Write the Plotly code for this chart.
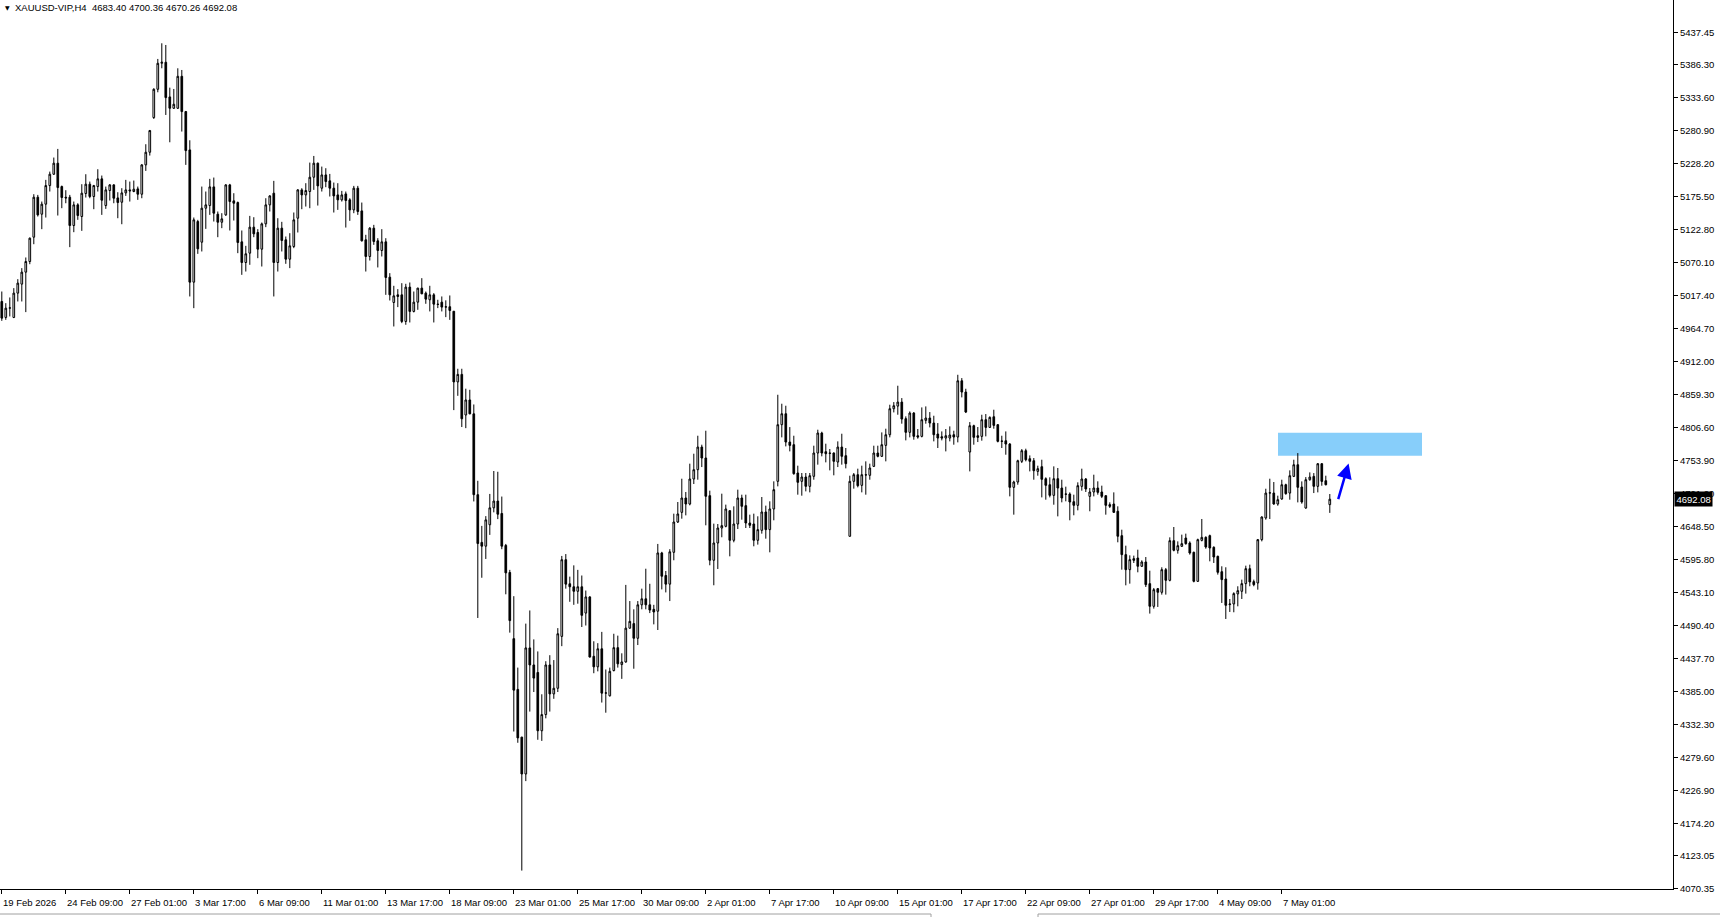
import plotly.graph_objects as go

# ---------------- data ----------------
symbol_title = "XAUUSD-VIP,H4  4683.40 4700.36 4670.26 4692.08"

opens = [
    5007.7, 4982.2, 4997.0, 4982.2, 5021.0, 5035.4, 5054.5, 5071.5, 5110.3, 5174.1,
    5147.0, 5163.0, 5192.7, 5210.8, 5228.4, 5191.1, 5174.1, 5174.1, 5128.9, 5161.9,
    5143.3, 5180.0, 5194.9, 5175.2, 5191.1, 5203.4, 5160.8, 5184.8, 5193.8, 5173.0,
    5166.1, 5181.0, 5185.8, 5183.2, 5187.4, 5178.9, 5225.7, 5245.9, 5301.2, 5346.4,
    5387.9, 5389.5, 5334.2, 5316.1, 5316.1, 5367.1, 5310.8, 5249.6, 5038.5, 5135.3,
    5102.3, 5156.6, 5160.8, 5190.6, 5147.0, 5134.2, 5145.9, 5193.8, 5168.3, 5165.6,
    5102.9, 5069.9, 5084.8, 5126.3, 5117.8, 5091.2, 5131.6, 5161.9, 5180.5, 5069.9,
    5124.7, 5106.1, 5075.2, 5095.4, 5140.6, 5185.8, 5177.8, 5183.2, 5206.0, 5228.4,
    5188.5, 5209.7, 5200.2, 5188.5, 5177.8, 5169.9, 5179.4, 5169.9, 5153.9, 5188.5,
    5152.3, 5106.1, 5079.5, 5124.7, 5104.5, 5089.1, 5102.9, 5046.5, 5006.1, 5018.3,
    5018.3, 4975.8, 5030.6, 4991.8, 5006.6, 5029.0, 5021.0, 5010.4, 5018.3, 5003.4,
    5006.6, 4998.7, 4999.3, 4992.1, 4879.3, 4891.3, 4826.5, 4850.5, 4828.3, 4699.3,
    4623.1, 4617.1, 4651.3, 4678.3, 4689.1, 4669.3, 4618.3, 4575.1, 4469.5, 4388.5,
    4312.3, 4253.5, 4454.7, 4427.5, 4415.5, 4322.5, 4348.3, 4427.5, 4381.3, 4390.3,
    4473.1, 4595.5, 4557.1, 4552.3, 4545.1, 4552.3, 4510.3, 4536.1, 4441.3, 4424.5,
    4453.3, 4382.5, 4378.3, 4418.5, 4455.1, 4428.1, 4432.3, 4486.3, 4493.5, 4470.1,
    4523.5, 4533.1, 4523.5, 4516.3, 4513.3, 4606.3, 4570.3, 4556.5, 4607.3, 4655.7,
    4671.1, 4694.0, 4684.4, 4724.3, 4739.2, 4775.3, 4757.8, 4697.7, 4594.6, 4622.2,
    4646.1, 4648.8, 4673.8, 4626.5, 4652.5, 4694.0, 4681.8, 4654.1, 4652.5, 4626.5,
    4642.4, 4671.7, 4643.5, 4676.5, 4720.6, 4811.0, 4828.5, 4783.3, 4779.1, 4733.9,
    4720.6, 4727.5, 4712.6, 4728.6, 4765.8, 4797.7, 4767.9, 4765.8, 4765.8, 4751.4,
    4775.3, 4761.5, 4632.9, 4720.6, 4731.2, 4714.2, 4730.7, 4730.2, 4744.5, 4765.8,
    4760.5, 4778.0, 4795.0, 4836.5, 4840.7, 4847.1, 4820.6, 4798.8, 4829.6, 4793.4,
    4792.4, 4817.9, 4821.6, 4813.6, 4796.1, 4791.8, 4789.7, 4789.7, 4795.0, 4791.3,
    4881.1, 4863.1, 4767.4, 4809.4, 4793.4, 4792.4, 4819.0, 4806.7, 4823.7, 4811.0,
    4784.9, 4785.4, 4780.1, 4711.0, 4719.5, 4752.5, 4769.5, 4756.7, 4753.5, 4736.5,
    4744.0, 4724.8, 4715.2, 4698.2, 4724.8, 4709.9, 4700.5, 4700.4, 4688.1, 4682.3,
    4712.6, 4724.3, 4696.6, 4703.6, 4709.9, 4703.6, 4697.7, 4683.4, 4684.4, 4672.8,
    4633.9, 4603.6, 4579.6, 4597.2, 4598.2, 4585.0, 4591.9, 4557.3, 4521.1, 4549.3,
    4543.5, 4579.6, 4562.6, 4625.9, 4610.5, 4616.9, 4630.1, 4622.2, 4607.3, 4561.0,
    4626.4, 4631.2, 4633.9, 4615.3, 4600.9, 4576.4, 4564.7, 4523.8, 4524.9, 4540.9,
    4545.1, 4557.3, 4581.2, 4560.5, 4558.4, 4627.5, 4662.1, 4701.9, 4701.9, 4684.4,
    4692.4, 4715.2, 4701.9, 4728.5, 4747.1, 4711.5, 4678.0, 4723.2, 4728.5, 4712.6,
    4748.7, 4721.6, 4683.40,
]
highs = [
    5023.6, 5005.0, 5014.1, 5029.0, 5043.3, 5060.9, 5077.9, 5109.8, 5178.9, 5177.8,
    5167.2, 5201.8, 5215.0, 5237.4, 5251.2, 5192.7, 5185.3, 5177.8, 5167.2, 5164.5,
    5194.9, 5210.8, 5199.1, 5193.8, 5218.8, 5208.7, 5191.1, 5194.9, 5194.9, 5182.1,
    5188.5, 5201.8, 5199.1, 5200.7, 5191.1, 5226.8, 5258.7, 5281.5, 5348.0, 5394.8,
    5419.8, 5417.1, 5349.0, 5346.9, 5379.9, 5377.2, 5311.8, 5265.0, 5141.7, 5138.0,
    5191.1, 5183.2, 5203.4, 5205.5, 5151.3, 5148.6, 5194.9, 5195.4, 5180.5, 5167.2,
    5121.0, 5096.5, 5144.3, 5142.2, 5123.1, 5133.7, 5172.5, 5177.3, 5200.2, 5140.6,
    5134.8, 5111.4, 5116.7, 5149.7, 5186.9, 5188.5, 5196.5, 5229.4, 5240.0, 5229.4,
    5223.0, 5220.4, 5211.3, 5197.5, 5196.5, 5184.2, 5183.2, 5172.5, 5192.2, 5192.2,
    5165.6, 5114.1, 5126.3, 5130.0, 5108.7, 5123.1, 5108.7, 5052.9, 5032.7, 5027.4,
    5036.9, 5035.9, 5038.0, 5023.6, 5029.5, 5044.9, 5023.6, 5032.7, 5021.0, 5010.4,
    5015.7, 5009.5, 5017.3, 4992.5, 4900.3, 4900.3, 4868.5, 4866.7, 4843.3, 4721.5,
    4649.5, 4665.1, 4700.5, 4737.1, 4735.9, 4696.3, 4620.7, 4579.3, 4537.3, 4423.3,
    4312.8, 4493.5, 4514.5, 4468.3, 4449.1, 4380.7, 4433.5, 4443.1, 4435.3, 4486.3,
    4601.5, 4604.5, 4568.5, 4586.5, 4579.3, 4570.3, 4546.3, 4537.3, 4465.3, 4462.3,
    4480.3, 4420.3, 4423.3, 4477.3, 4474.3, 4446.1, 4555.3, 4529.5, 4516.3, 4529.5,
    4549.3, 4581.1, 4557.1, 4523.5, 4620.7, 4608.1, 4577.5, 4612.3, 4669.0, 4687.6,
    4724.8, 4703.6, 4748.8, 4764.7, 4793.4, 4779.1, 4801.4, 4705.7, 4653.1, 4652.5,
    4700.9, 4683.4, 4674.3, 4680.7, 4707.3, 4699.3, 4699.3, 4667.4, 4669.0, 4664.8,
    4695.6, 4681.8, 4688.7, 4720.6, 4858.8, 4844.5, 4841.3, 4807.2, 4793.4, 4745.6,
    4733.9, 4733.9, 4733.9, 4777.5, 4803.0, 4799.8, 4780.7, 4772.2, 4766.8, 4784.4,
    4796.6, 4773.8, 4729.6, 4733.9, 4740.8, 4745.6, 4752.5, 4748.8, 4777.5, 4777.5,
    4798.7, 4804.6, 4842.9, 4847.1, 4873.2, 4853.5, 4824.3, 4832.2, 4831.2, 4804.1,
    4838.6, 4840.2, 4831.2, 4825.3, 4813.6, 4800.3, 4804.1, 4808.3, 4801.4, 4890.7,
    4885.4, 4868.4, 4815.2, 4811.0, 4807.3, 4826.9, 4828.0, 4824.3, 4834.9, 4812.0,
    4793.4, 4800.3, 4781.7, 4721.6, 4755.1, 4772.1, 4772.7, 4762.0, 4757.8, 4745.6,
    4755.1, 4727.0, 4727.0, 4744.5, 4741.9, 4723.2, 4712.1, 4703.0, 4699.3, 4719.0,
    4740.8, 4725.9, 4709.9, 4731.2, 4720.6, 4713.7, 4698.2, 4687.1, 4703.0, 4680.7,
    4643.4, 4617.9, 4602.5, 4602.0, 4611.5, 4594.5, 4599.8, 4578.0, 4550.4, 4550.4,
    4583.4, 4582.3, 4631.2, 4647.7, 4624.8, 4635.5, 4637.1, 4624.8, 4608.4, 4629.1,
    4660.5, 4632.8, 4635.5, 4616.9, 4602.0, 4585.0, 4583.4, 4532.8, 4543.5, 4553.1,
    4563.7, 4586.0, 4587.6, 4563.7, 4628.6, 4664.7, 4708.8, 4724.8, 4719.5, 4697.7,
    4723.2, 4716.8, 4738.1, 4755.1, 4765.7, 4720.5, 4727.4, 4734.9, 4733.8, 4749.8,
    4749.8, 4729.6, 4700.36,
]
lows = [
    4976.8, 4978.4, 4983.8, 4981.1, 5007.7, 5007.7, 4990.7, 5067.2, 5099.1, 5143.3,
    5123.1, 5141.7, 5183.2, 5209.7, 5144.9, 5156.6, 5164.5, 5094.4, 5118.3, 5138.0,
    5120.4, 5173.6, 5172.5, 5155.0, 5183.2, 5145.9, 5155.5, 5168.8, 5164.5, 5140.6,
    5131.0, 5176.2, 5167.2, 5182.1, 5169.9, 5172.5, 5216.1, 5240.6, 5299.1, 5341.6,
    5379.9, 5305.4, 5261.8, 5315.0, 5315.0, 5278.9, 5225.7, 5015.7, 4997.0, 5083.7,
    5087.5, 5123.6, 5145.9, 5135.3, 5110.3, 5124.7, 5144.3, 5121.0, 5136.9, 5084.8,
    5050.2, 5055.5, 5066.2, 5110.3, 5076.8, 5063.5, 5126.3, 5151.3, 5015.7, 5055.5,
    5087.5, 5067.8, 5060.9, 5092.8, 5117.8, 5155.0, 5159.2, 5156.6, 5185.8, 5160.8,
    5183.2, 5190.1, 5175.2, 5149.7, 5153.9, 5167.2, 5125.7, 5136.4, 5148.6, 5145.9,
    5103.4, 5055.5, 5073.1, 5098.1, 5062.0, 5079.5, 5018.3, 5009.3, 4967.8, 4998.7,
    4973.1, 4970.5, 4974.2, 4990.2, 4994.4, 5019.4, 5004.0, 4991.8, 4974.2, 4997.1,
    4991.8, 4982.7, 4978.3, 4834.3, 4857.1, 4807.3, 4805.5, 4827.8, 4688.5, 4502.5,
    4566.7, 4596.7, 4635.1, 4671.1, 4660.3, 4612.3, 4540.3, 4479.1, 4321.3, 4303.3,
    4099.3, 4242.1, 4353.1, 4384.3, 4308.1, 4306.3, 4342.3, 4353.1, 4373.5, 4384.3,
    4457.5, 4549.3, 4528.3, 4523.5, 4525.3, 4488.1, 4490.5, 4439.5, 4414.3, 4417.3,
    4367.5, 4351.3, 4377.1, 4417.3, 4423.3, 4405.3, 4431.1, 4485.1, 4421.5, 4459.3,
    4516.3, 4516.3, 4510.3, 4492.3, 4483.3, 4548.1, 4543.3, 4529.5, 4594.6, 4654.1,
    4661.0, 4666.3, 4682.3, 4716.3, 4723.2, 4743.4, 4650.4, 4586.6, 4554.7, 4580.7,
    4631.3, 4647.2, 4600.9, 4623.3, 4644.5, 4659.4, 4646.1, 4646.1, 4616.9, 4619.6,
    4637.1, 4629.1, 4607.3, 4658.4, 4712.6, 4790.8, 4776.4, 4768.4, 4731.2, 4699.3,
    4697.7, 4704.6, 4703.0, 4723.2, 4747.2, 4760.5, 4750.9, 4738.1, 4730.2, 4743.4,
    4747.2, 4741.3, 4632.4, 4708.9, 4711.0, 4703.0, 4699.3, 4723.2, 4743.4, 4758.9,
    4759.4, 4752.5, 4790.8, 4830.6, 4826.9, 4812.6, 4786.0, 4790.8, 4787.1, 4788.7,
    4790.8, 4812.6, 4806.7, 4784.4, 4773.8, 4786.0, 4768.4, 4784.4, 4779.1, 4782.8,
    4854.6, 4829.6, 4736.5, 4779.1, 4783.3, 4785.5, 4792.4, 4805.7, 4804.6, 4782.8,
    4773.8, 4763.1, 4696.6, 4667.4, 4715.2, 4749.8, 4752.5, 4736.5, 4723.2, 4729.6,
    4695.0, 4691.3, 4695.0, 4683.3, 4664.7, 4687.1, 4688.7, 4658.4, 4666.4, 4674.3,
    4705.7, 4703.6, 4672.8, 4696.6, 4699.3, 4693.9, 4667.4, 4678.0, 4670.1, 4623.3,
    4579.6, 4554.6, 4557.3, 4590.3, 4575.4, 4583.9, 4552.0, 4509.5, 4517.4, 4520.1,
    4539.8, 4539.8, 4561.0, 4608.9, 4605.2, 4615.8, 4619.5, 4603.6, 4559.4, 4560.0,
    4624.8, 4613.1, 4592.9, 4590.3, 4571.7, 4526.5, 4500.9, 4512.1, 4511.6, 4521.1,
    4532.8, 4541.4, 4553.1, 4553.1, 4547.7, 4624.8, 4659.4, 4660.5, 4683.3, 4681.7,
    4691.3, 4699.3, 4691.3, 4727.4, 4687.0, 4684.9, 4676.9, 4721.6, 4701.9, 4703.0,
    4713.6, 4714.2, 4670.26,
]
closes = [
    4981.1, 4997.0, 4997.5, 5021.0, 5037.0, 5054.5, 5071.5, 5108.7, 5174.1, 5145.9,
    5163.0, 5192.7, 5210.8, 5228.4, 5189.5, 5173.6, 5173.0, 5128.9, 5161.9, 5144.9,
    5180.5, 5194.9, 5175.2, 5192.7, 5203.4, 5169.3, 5185.8, 5193.8, 5172.5, 5165.6,
    5181.0, 5185.8, 5184.3, 5186.9, 5178.9, 5225.7, 5245.9, 5280.5, 5346.4, 5387.9,
    5389.5, 5333.1, 5316.1, 5322.5, 5367.1, 5310.8, 5248.5, 5038.5, 5138.0, 5091.7,
    5156.6, 5161.9, 5190.6, 5148.6, 5134.2, 5139.6, 5193.8, 5167.2, 5164.5, 5101.8,
    5069.9, 5083.8, 5126.3, 5115.6, 5091.2, 5131.6, 5161.9, 5176.2, 5069.9, 5124.7,
    5105.0, 5075.2, 5096.5, 5138.0, 5185.8, 5177.8, 5184.8, 5206.0, 5228.4, 5192.2,
    5209.7, 5199.1, 5188.5, 5176.2, 5169.9, 5177.8, 5168.8, 5153.9, 5188.5, 5151.3,
    5104.5, 5079.5, 5124.7, 5103.4, 5089.1, 5102.9, 5046.0, 5018.3, 5016.7, 5015.7,
    4975.8, 5030.6, 4991.8, 5006.6, 5029.0, 5019.9, 5011.4, 5018.3, 5003.4, 5003.0,
    4998.7, 4999.2, 4993.3, 4879.3, 4891.3, 4820.5, 4850.5, 4828.3, 4699.3, 4621.3,
    4617.1, 4659.1, 4678.3, 4689.1, 4668.1, 4617.1, 4574.5, 4498.3, 4387.3, 4311.1,
    4253.5, 4454.7, 4427.5, 4406.5, 4322.5, 4348.3, 4427.5, 4381.3, 4390.3, 4477.3,
    4595.5, 4556.5, 4552.3, 4545.1, 4552.3, 4506.7, 4536.1, 4440.1, 4424.5, 4453.3,
    4382.5, 4382.9, 4417.3, 4455.1, 4429.3, 4432.3, 4486.3, 4497.1, 4470.1, 4523.5,
    4533.1, 4523.5, 4515.1, 4512.1, 4606.3, 4569.1, 4556.5, 4608.1, 4655.7, 4668.5,
    4694.0, 4684.4, 4724.3, 4739.2, 4775.3, 4757.8, 4696.7, 4594.6, 4622.2, 4646.1,
    4649.9, 4676.5, 4626.5, 4652.5, 4694.0, 4680.7, 4654.1, 4650.4, 4626.5, 4643.5,
    4671.7, 4643.5, 4676.5, 4707.3, 4811.0, 4828.5, 4783.3, 4778.0, 4732.8, 4719.0,
    4727.5, 4712.6, 4729.6, 4765.8, 4797.7, 4765.8, 4764.7, 4765.3, 4752.5, 4775.3,
    4760.5, 4748.8, 4720.6, 4731.2, 4713.7, 4731.2, 4731.0, 4741.9, 4765.8, 4760.5,
    4779.1, 4795.0, 4836.5, 4841.3, 4847.1, 4820.0, 4798.8, 4829.6, 4792.4, 4791.3,
    4819.0, 4821.6, 4813.6, 4795.0, 4789.7, 4789.7, 4793.4, 4794.5, 4791.3, 4881.1,
    4863.1, 4831.2, 4809.4, 4790.8, 4790.8, 4819.0, 4806.7, 4822.7, 4809.9, 4784.4,
    4784.6, 4780.1, 4711.0, 4719.5, 4753.5, 4769.5, 4755.1, 4752.5, 4737.6, 4740.8,
    4723.8, 4714.2, 4698.2, 4724.8, 4709.9, 4694.0, 4700.0, 4687.6, 4682.3, 4713.7,
    4724.3, 4708.4, 4703.6, 4709.9, 4703.0, 4696.6, 4682.3, 4680.7, 4671.1, 4632.9,
    4603.6, 4579.6, 4595.6, 4594.5, 4585.0, 4591.9, 4555.7, 4521.1, 4547.7, 4543.5,
    4579.6, 4562.6, 4625.9, 4610.5, 4617.9, 4621.1, 4621.1, 4606.2, 4561.0, 4627.5,
    4631.2, 4615.8, 4614.2, 4599.8, 4575.4, 4563.7, 4522.7, 4524.8, 4541.4, 4546.1,
    4557.3, 4581.2, 4560.0, 4555.7, 4627.5, 4663.7, 4701.9, 4702.3, 4684.4, 4691.3,
    4715.2, 4700.9, 4729.6, 4747.1, 4711.0, 4687.6, 4723.2, 4727.4, 4712.6, 4748.7,
    4720.5, 4715.2, 4692.08,
]

time_tick_bars = [0, 16, 32, 48, 64, 80, 96, 112, 128, 144, 160, 176, 192,
                  208, 224, 240, 256, 272, 288, 304, 320]
time_tick_labels = ["19 Feb 2026", "24 Feb 09:00", "27 Feb 01:00", "3 Mar 17:00",
                    "6 Mar 09:00", "11 Mar 01:00", "13 Mar 17:00", "18 Mar 09:00",
                    "23 Mar 01:00", "25 Mar 17:00", "30 Mar 09:00", "2 Apr 01:00",
                    "7 Apr 17:00", "10 Apr 09:00", "15 Apr 01:00", "17 Apr 17:00",
                    "22 Apr 09:00", "27 Apr 01:00", "29 Apr 17:00", "4 May 09:00",
                    "7 May 01:00"]
price_ticks = [5437.45, 5386.30, 5333.60, 5280.90, 5228.20, 5175.50, 5122.80,
               5070.10, 5017.40, 4964.70, 4912.00, 4859.30, 4806.60, 4753.90,
               4701.20, 4648.50, 4595.80, 4543.10, 4490.40, 4437.70, 4385.00,
               4332.30, 4279.60, 4226.90, 4174.20, 4123.05, 4070.35]
last_price = 4692.08

# resistance zone and arrow drawn on the chart
zone_bar_start, zone_bar_end = 319.05, 355.05
zone_low, zone_high = 4761.5, 4798.2
arrow_tail_bar, arrow_tail_price = 334.0, 4689.7
arrow_head_bar, arrow_head_price = 336.7, 4749.2

# ---------------- figure ----------------
bars = list(range(len(opens)))
highs = [max(h, o, c) for h, o, c in zip(highs, opens, closes)]
lows = [min(l, o, c) for l, o, c in zip(lows, opens, closes)]

FONT = "Liberation Sans, Arial, sans-serif"
FS = 9.5
W, H = 1720, 917
M_L, M_R, M_T, M_B = 0, 47, 0, 28
plot_w = W - M_L - M_R
plot_h = H - M_T - M_B

fig = go.Figure()
fig.add_trace(go.Candlestick(
    x=bars, open=opens, high=highs, low=lows, close=closes,
    increasing=dict(line=dict(color="black", width=1), fillcolor="white"),
    decreasing=dict(line=dict(color="black", width=1), fillcolor="black"),
    whiskerwidth=0, hoverinfo="skip", showlegend=False,
))

x0 = -0.45
fig.update_layout(
    width=W, height=H,
    margin=dict(l=M_L, r=M_R, t=M_T, b=M_B, pad=0, autoexpand=False),
    paper_bgcolor="white", plot_bgcolor="white",
    font=dict(family=FONT, size=FS, color="black"),
    boxgap=0.4,
    showlegend=False,
    hovermode=False,
    xaxis=dict(
        range=[x0, x0 + plot_w / 4.0],
        showgrid=False, zeroline=False, automargin=False,
        showline=True, linecolor="black", linewidth=1, mirror=True,
        ticks="outside", ticklen=4, tickcolor="black", tickwidth=1,
        tickvals=time_tick_bars, showticklabels=False,
        rangeslider=dict(visible=False),
        fixedrange=True,
    ),
    yaxis=dict(
        side="right",
        range=[4069.9, 5488.9],
        showgrid=False, zeroline=False, automargin=False,
        showline=True, linecolor="black", linewidth=1, mirror=True,
        ticks="outside", ticklen=4, tickcolor="black", tickwidth=1,
        tickvals=price_ticks, ticktext=[f"{v:.2f}" for v in price_ticks],
        tickfont=dict(family=FONT, size=FS, color="black"),
        fixedrange=True,
    ),
)

# time labels, left-aligned just right of each tick mark (MT4 style)
for b, lab in zip(time_tick_bars, time_tick_labels):
    fig.add_annotation(x=b, y=0, xref="x", yref="paper", xanchor="left",
                       yanchor="middle", xshift=0, yshift=-13, showarrow=False,
                       text=lab, borderpad=0,
                       font=dict(family=FONT, size=FS, color="black"))

# resistance zone
fig.add_shape(type="rect", xref="x", yref="y",
              x0=zone_bar_start, x1=zone_bar_end, y0=zone_low, y1=zone_high,
              fillcolor="#87CEFA", line=dict(width=0), layer="below")

# arrow
fig.add_annotation(x=arrow_head_bar, y=arrow_head_price, xref="x", yref="y",
                   ax=arrow_tail_bar, ay=arrow_tail_price, axref="x", ayref="y",
                   text="", showarrow=True, arrowhead=2, arrowsize=1.2,
                   arrowwidth=2.5, arrowcolor="#0000FF")

# title
fig.add_annotation(x=0, y=1, xref="paper", yref="paper", xanchor="left",
                   yanchor="middle", xshift=13, yshift=-7.5, showarrow=False,
                   text=symbol_title, font=dict(family=FONT, size=FS, color="black"))
fig.add_annotation(x=0, y=1, xref="paper", yref="paper", xanchor="center",
                   yanchor="middle", xshift=7.5, yshift=-7.5, showarrow=False,
                   text="▼", font=dict(family="DejaVu Sans", size=6, color="black"))

# current price label
fig.add_annotation(x=1, y=last_price, xref="paper", yref="y", xanchor="left",
                   yanchor="middle", xshift=1, showarrow=False,
                   text=f"{last_price:.2f}", bgcolor="black", borderpad=1.5,
                   font=dict(family=FONT, size=FS, color="white"))

# bottom tab strip lines
yb = -(914 - plot_h) / plot_h
for xa, xb in [(0, 931), (1038, W)]:
    fig.add_shape(type="line", xref="paper", yref="paper",
                  x0=xa / plot_w, x1=xb / plot_w, y0=yb, y1=yb,
                  line=dict(color="#a0a0a0", width=1))
for xv in (931, 1038):
    fig.add_shape(type="line", xref="paper", yref="paper",
                  x0=xv / plot_w, x1=xv / plot_w, y0=yb, y1=-(917 - plot_h) / plot_h,
                  line=dict(color="#a0a0a0", width=1))

fig.write_html("out.html", config={"displayModeBar": False},
               post_script="document.body.style.margin='0';document.body.style.overflow='hidden';")
